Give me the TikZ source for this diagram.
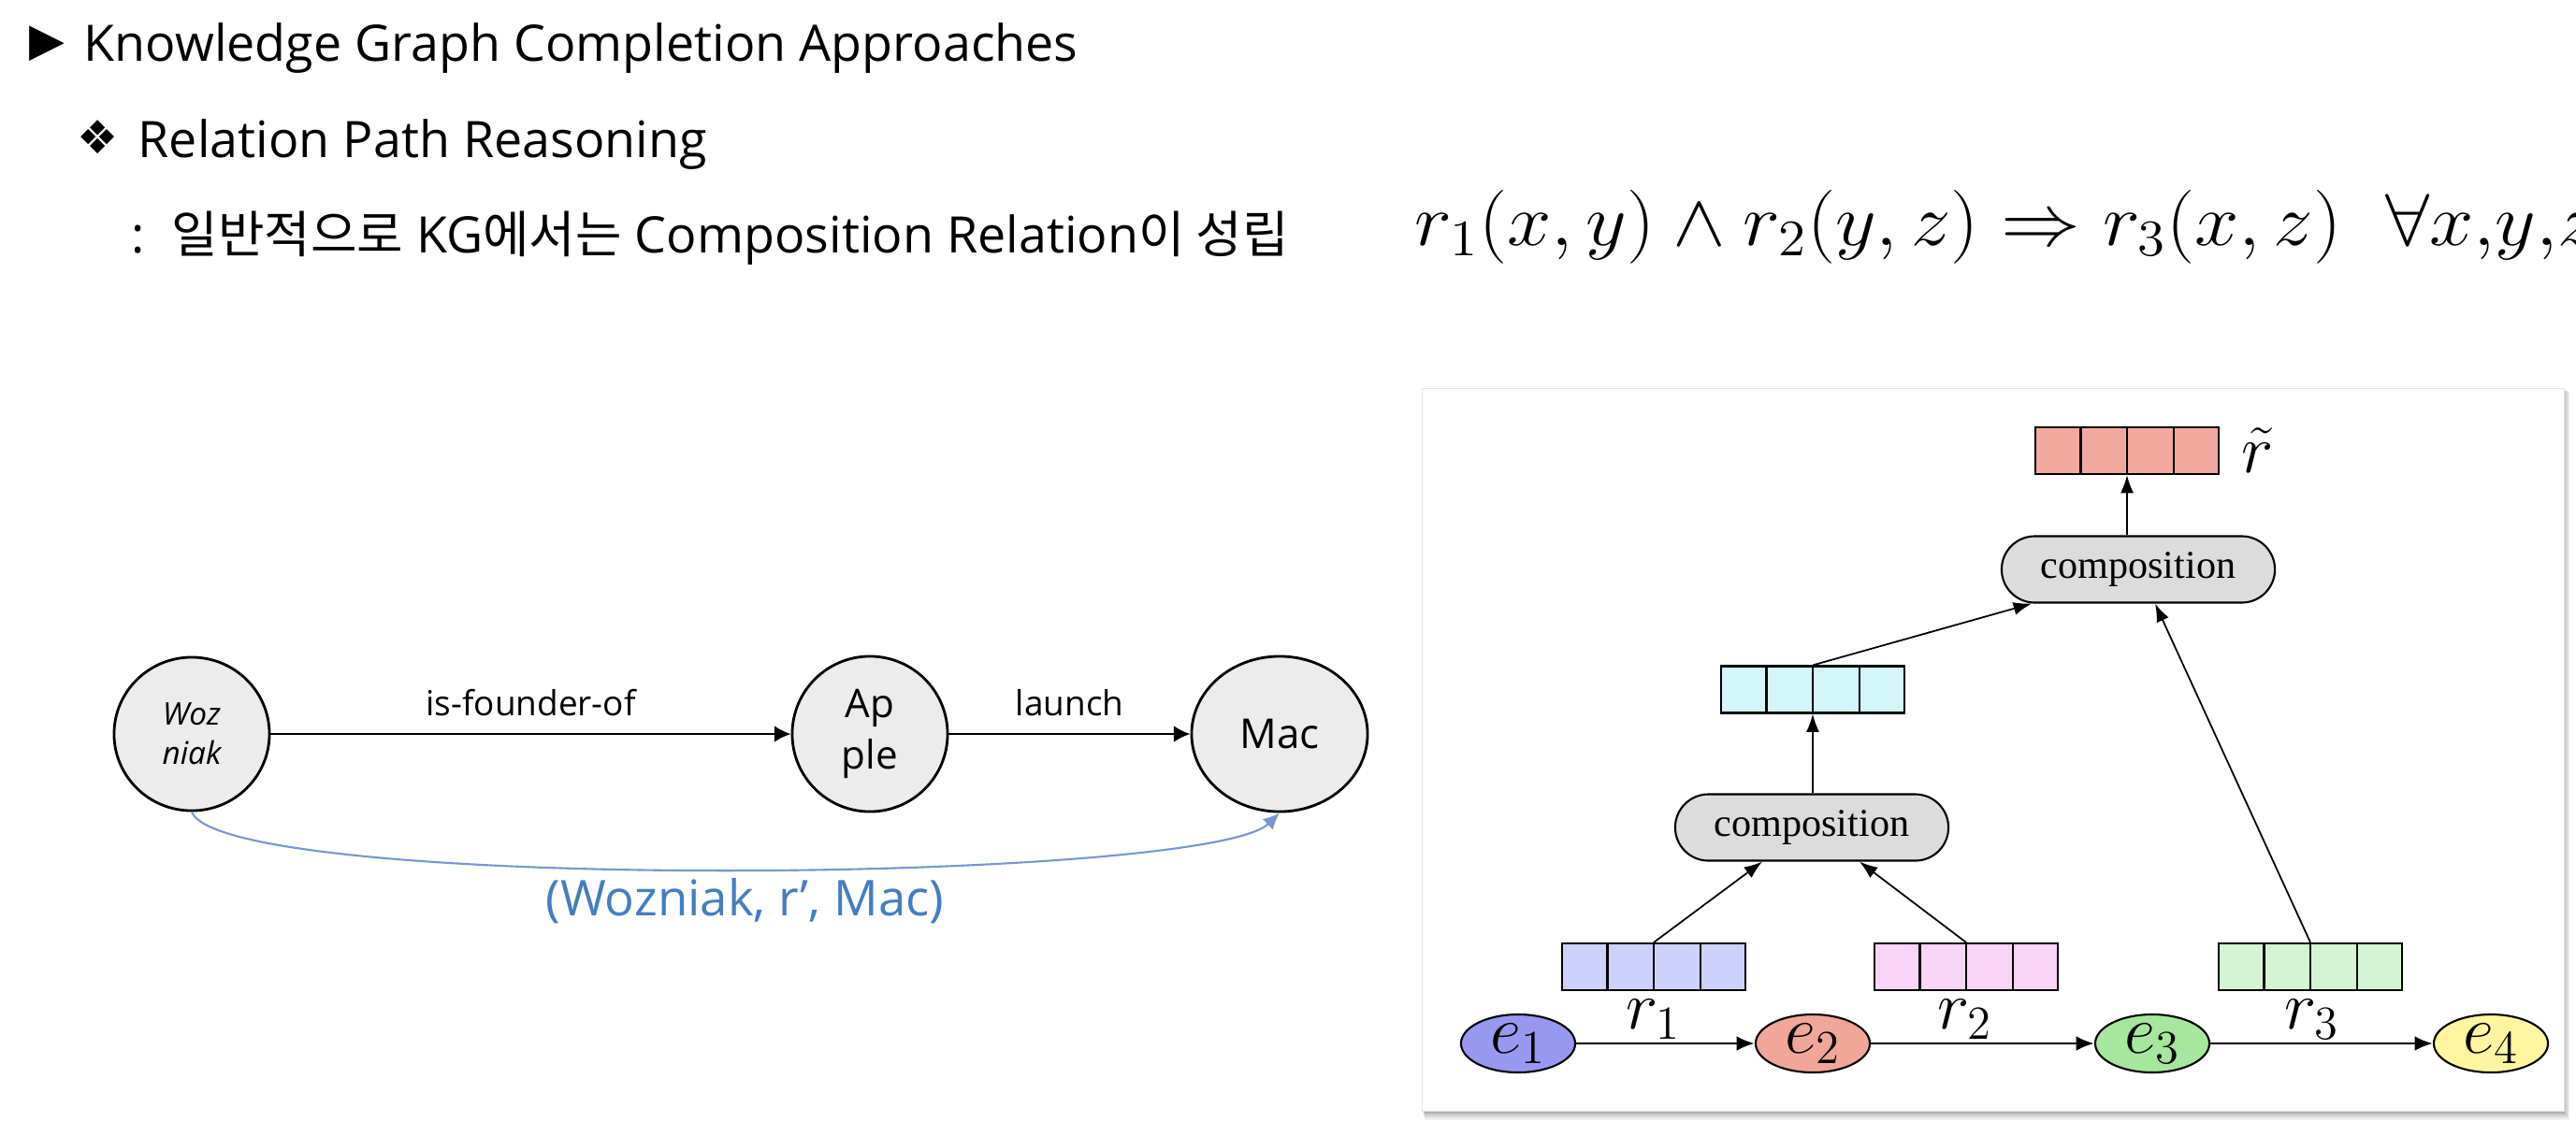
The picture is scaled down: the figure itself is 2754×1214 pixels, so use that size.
\documentclass[tikz,border=0pt]{standalone}
\usepackage{fontspec}
\setmainfont{Open Sans}
\newfontfamily\kr{Noto Sans CJK KR}
\newfontfamily\dejavu{DejaVu Sans}
\newfontfamily\tms{Liberation Serif}
\usetikzlibrary{arrows.meta,shapes.geometric,calc}
\definecolor{entfill}{RGB}{236,236,236}
\definecolor{bluetxt}{RGB}{70,125,192}
\definecolor{bluecurve}{RGB}{120,150,210}
\definecolor{compfill}{RGB}{220,220,220}
\definecolor{rtc}{RGB}{242,170,160}
\definecolor{cyc}{RGB}{212,246,250}
\definecolor{vac}{RGB}{206,210,250}
\definecolor{vbc}{RGB}{248,212,248}
\definecolor{vcc}{RGB}{212,244,212}
\definecolor{eac}{RGB}{152,152,240}
\definecolor{ebc}{RGB}{240,166,152}
\definecolor{ecc}{RGB}{166,230,158}
\definecolor{edc}{RGB}{255,245,160}
\tikzset{
  txt/.style={inner sep=0pt, font=\fontsize{15.3}{18}\selectfont},
  bul/.style={inner sep=0pt, font=\fontsize{14}{17}\selectfont},
  ent/.style={ellipse, draw=black, line width=0.8pt, fill=entfill, inner sep=0pt, align=center},
  larrow/.style={-{Latex[length=5pt,width=5pt]}, line width=0.7pt},
  elab/.style={above=5pt, inner sep=0pt, font=\fontsize{10.5}{12}\selectfont},
  vec/.style={rectangle, draw=black, line width=0.6pt, minimum width=1.96cm, minimum height=0.5cm, inner sep=0pt},
  cellline/.style={line width=0.6pt},
  comp/.style={rectangle, rounded corners=0.355cm, draw=black, line width=0.6pt, fill=compfill, minimum width=2.92cm, minimum height=0.71cm, inner sep=0pt, font=\tms\fontsize{12}{14}\selectfont},
  varrow/.style={-{Latex[length=5.5pt,width=4pt]}, line width=0.5pt},
  earrow/.style={-{Latex[length=5.5pt,width=4.5pt]}, line width=0.8pt},
  enode/.style={ellipse, draw=black, line width=0.6pt, minimum width=1.22cm, minimum height=0.62cm, inner sep=0pt, font=\fontsize{20.74}{24}\selectfont},
  rlab/.style={above, inner sep=1pt, font=\fontsize{20.74}{24}\selectfont},
  panel/.style={rectangle, fill=white, draw=black!10, line width=0.3pt, minimum width=12.2cm, minimum height=7.72cm, inner sep=0pt}
}
\newcommand\vcells[1]{\foreach \f in {0.25,0.5,0.75}{\draw[cellline] ($(#1.north west)!\f!(#1.north east)$) -- ($(#1.south west)!\f!(#1.south east)$);}}
\begin{document}
\begin{tikzpicture}[x=0.01cm,y=-0.01cm]
\useasboundingbox[fill=white] (0,0) rectangle (2754,1214);
% header
\node[bul] (tri) at (50,47) {\dejavu ▶};
\node[txt, anchor=base west] (title) at (89,65) {Knowledge Graph Completion Approaches};
\node[bul] (dia) at (105,147) {\dejavu ❖};
\node[txt, anchor=base west] (sub) at (147,168) {Relation Path Reasoning};
\node[txt, anchor=base west] (colon) at (140,270) {:};
\node[txt, anchor=base west] (desc) at (183,270) {{\kr 일반적으로} KG{\kr 에서는} Composition Relation{\kr 이 성립}};
\node[anchor=base west, inner sep=0pt, font=\fontsize{20.74}{24}\selectfont] (formula) at (1512,262) {\scalebox{1.165}[1.08]{$r_1(x,y)\wedge r_2(y,z)\Rightarrow r_3(x,z)\hspace{0.55em}\forall x{,}y{,}z$}};
% left graph
\node[ent, minimum width=1.66cm, minimum height=1.64cm, font=\fontsize{9.5}{12}\selectfont\itshape] (woz) at (205,785) {Woz\\niak};
\node[ent, minimum width=1.66cm, minimum height=1.66cm, font=\fontsize{12}{15.6}\selectfont] (apple) at (930,785) {Ap\\ple};
\node[ent, minimum width=1.88cm, minimum height=1.66cm, font=\fontsize{12.5}{15}\selectfont] (mac) at (1368,785) {Mac};
\draw[larrow] (woz) -- node[elab] {is-founder-of} (apple);
\draw[larrow] (apple) -- node[elab] {launch} (mac);
\draw[bluecurve, line width=0.6pt, -{Latex[length=5pt,width=4.5pt]}] (woz.south) .. controls (240,955) and (1290,945) .. node[pos=0.5, below=0.09cm, xshift=0.26cm, inner sep=0pt, text=bluetxt, font=\fontsize{15}{18}\selectfont] (lbl) {(Wozniak, r’, Mac)} (mac.south);
% right panel shadow
\foreach \d/\o in {10/0.05,8/0.06,6/0.07,4/0.09,2/0.12}{
  \fill[black, opacity=\o] (1521+\d*0.2,416+\d*0.3) rectangle (2741+\d*0.6,1188+\d);
}
\node[panel] (panel) at (2131,802) {};
% vectors
\node[vec, fill=rtc] (rt) at (2274,482) {};
\vcells{rt}
\node[inner sep=0pt, font=\fontsize{20.74}{24}\selectfont] (rtl) at (2414,482) {$\tilde r$};
\node[comp] (c1) at (2286,609) {composition};
\node[vec, fill=cyc] (cy) at (1938,737.5) {};
\vcells{cy}
\node[comp] (c2) at (1937,885) {composition};
\node[vec, fill=vac] (v1) at (1768,1034) {};
\vcells{v1}
\node[vec, fill=vbc] (v2) at (2102,1034) {};
\vcells{v2}
\node[vec, fill=vcc] (v3) at (2470,1034) {};
\vcells{v3}
\draw[varrow] (rt.south |- c1.north) -- (rt.south);
\draw[varrow] (cy.north) -- ([xshift=-1.14cm]c1.south);
\draw[varrow] (v3.north) -- ([xshift=0.18cm]c1.south);
\draw[varrow] (cy.south |- c2.north) -- (cy.south);
\draw[varrow] (v1.north) -- ([xshift=-0.53cm]c2.south);
\draw[varrow] (v2.north) -- ([xshift=0.51cm]c2.south);
% entities
\node[enode, fill=eac] (e1) at (1623,1116) {$e_1$};
\node[enode, fill=ebc] (e2) at (1938,1116) {$e_2$};
\node[enode, fill=ecc] (e3) at (2301,1116) {$e_3$};
\node[enode, fill=edc] (e4) at (2663,1116) {$e_4$};
\draw[earrow] (e1) -- node[rlab, xshift=-0.13cm] {$r_1$} (e2);
\draw[earrow] (e2) -- node[rlab, xshift=-0.19cm] {$r_2$} (e3);
\draw[earrow] (e3) -- node[rlab, xshift=-0.1cm] {$r_3$} (e4);
\end{tikzpicture}
\end{document}
